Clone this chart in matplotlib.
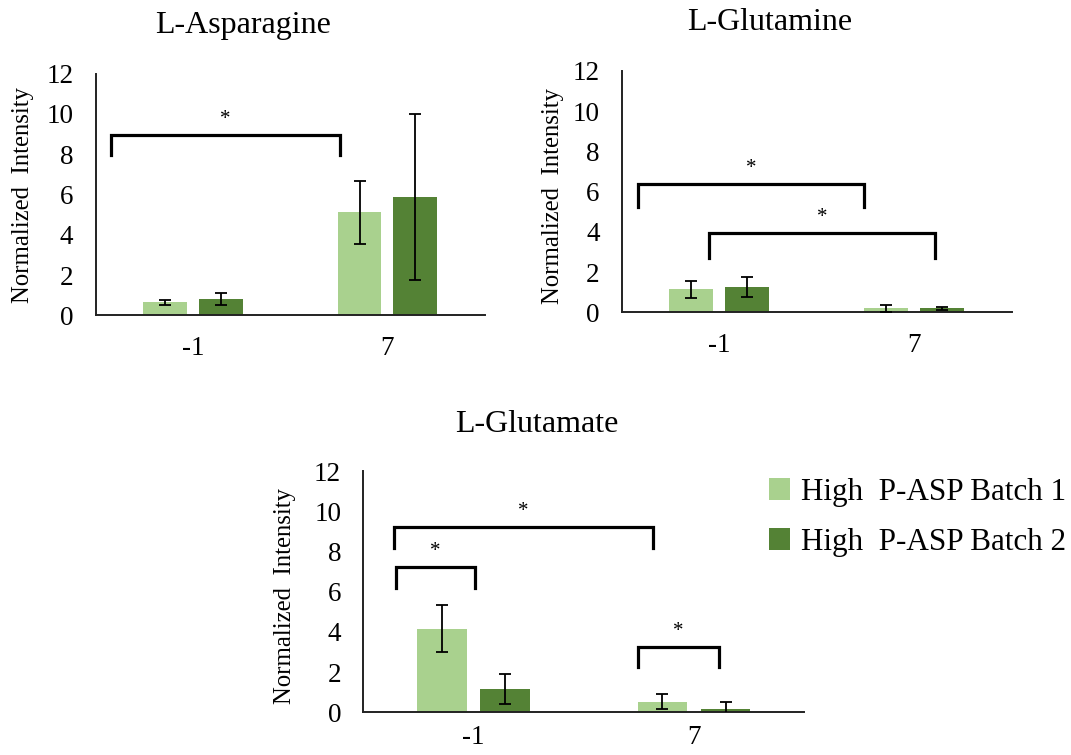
import numpy as np
import matplotlib
matplotlib.use("Agg")
import matplotlib.pyplot as plt
from matplotlib.patches import Patch

plt.rcParams["font.family"] = ["Liberation Serif", "DejaVu Serif"]

days = ["-1", "7"]
series_names = ["High  P-ASP Batch 1", "High  P-ASP Batch 2"]
colors = ["#a9d18e", "#548235"]

# mean normalized intensity per day, and error (SD)
asn_b1 = [0.66, 5.11]
asn_b2 = [0.83, 5.88]
asn_b1_err = [0.13, 1.54]
asn_b2_err = [0.30, 4.10]

gln_b1 = [1.14, 0.20]
gln_b2 = [1.24, 0.20]
gln_b1_err = [0.41, 0.17]
gln_b2_err = [0.50, 0.08]

glu_b1 = [4.16, 0.53]
glu_b2 = [1.14, 0.18]
glu_b1_err = [1.18, 0.37]
glu_b2_err = [0.75, 0.32]

# significance brackets: (x_left, x_right, y_top, y_bottom)
asn_brackets = [(-0.42, 0.755, 8.96, 7.94)]
gln_brackets = [(-0.415, 0.744, 6.37, 5.25), (-0.05, 1.109, 3.93, 2.69)]
glu_brackets = [(-0.361, 0.8125, 9.2, 8.19), (-0.352, 0.007, 7.21, 6.17),
                (0.748, 1.113, 3.23, 2.24)]

W, H = 1071, 755
fig = plt.figure(figsize=(W / 100, H / 100), dpi=100)


def px_axes(left, right, top, bottom):
    return fig.add_axes([left / W, 1 - bottom / H, (right - left) / W, (bottom - top) / H])


def draw_panel(ax, b1, b2, e1, e2, brackets, xpad=15):
    x = np.arange(len(days))
    off, width = 0.143, 0.225
    for vals, errs, dx, c in [(b1, e1, -off, colors[0]), (b2, e2, off, colors[1])]:
        ax.bar(x + dx, vals, width, color=c, zorder=2)
        ax.errorbar(x + dx, vals, yerr=errs, fmt="none", ecolor="black",
                    elinewidth=1.3, capsize=4.3, capthick=1.3, zorder=3)
    for xl, xr, yt, yb in brackets:
        ax.plot([xl, xl, xr, xr], [yb, yt, yt, yb], color="black", lw=2.3,
                solid_joinstyle="miter", zorder=4, clip_on=False)
        ax.text((xl + xr) / 2, yt + 0.3, "*", ha="center", va="bottom",
                fontsize=15, zorder=4)
    ax.set_xlim(-0.5, 1.5)
    ax.set_ylim(0, 12)
    ax.set_yticks(range(0, 13, 2))
    ax.set_xticks(x)
    ax.set_xticklabels(days)
    for s in ["top", "right"]:
        ax.spines[s].set_visible(False)
    for s in ["left", "bottom"]:
        ax.spines[s].set_linewidth(1.4)
        ax.spines[s].set_color("#222222")
    ax.tick_params(axis="y", length=0, pad=16, labelsize=19.5)
    ax.tick_params(axis="x", length=0, pad=xpad, labelsize=19.5)
    ax.set_facecolor("none")


ax1 = px_axes(95.7, 484.5, 73.5, 315.5)
draw_panel(ax1, asn_b1, asn_b2, asn_b1_err, asn_b2_err, asn_brackets)
ax2 = px_axes(621.8, 1011.5, 71, 312.3)
draw_panel(ax2, gln_b1, gln_b2, gln_b1_err, gln_b2_err, gln_brackets)
ax3 = px_axes(363.4, 804.2, 471, 712.3)
draw_panel(ax3, glu_b1, glu_b2, glu_b1_err, glu_b2_err, glu_brackets, xpad=9)

# panel titles and y labels
for tx, ty, t in [(243, 25, "L-Asparagine"), (770, 23, "L-Glutamine"), (537, 425, "L-Glutamate")]:
    fig.text(tx / W, 1 - ty / H, t, ha="center", va="center", fontsize=23)
for lx, ly in [(23, 195), (553, 196), (285, 596)]:
    fig.text(lx / W, 1 - ly / H, "Normalized  Intensity", rotation=90,
             ha="center", va="center", fontsize=17.8)

handles = [Patch(facecolor=c, edgecolor="none") for c in colors]
fig.legend(handles, series_names, loc="upper left",
           bbox_to_anchor=(768.5 / W, 1 - 478 / H), frameon=False, fontsize=22.4,
           handlelength=0.7, handleheight=0.7, handletextpad=0.33,
           labelspacing=0.68, borderaxespad=0, borderpad=0)

fig.savefig("out.png", dpi=100, facecolor="white")
